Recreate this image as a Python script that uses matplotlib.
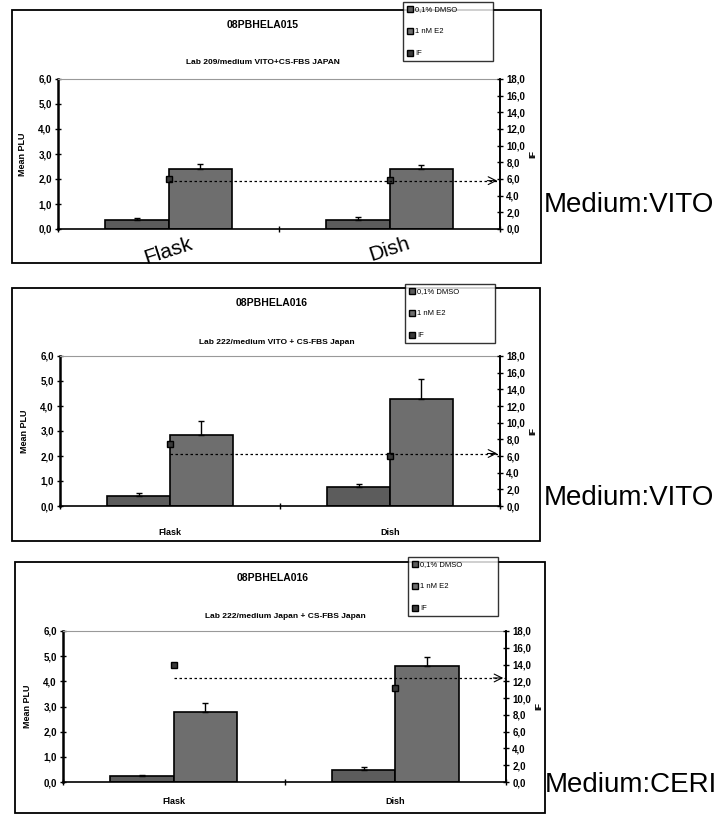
import numpy as np
import matplotlib
matplotlib.use("Agg")
from matplotlib import pyplot as plt
import matplotlib.patches as mpatches
from matplotlib.lines import Line2D
from matplotlib.ticker import FuncFormatter

plt.rcParams["font.family"] = ["Liberation Sans", "DejaVu Sans"]

W, H = 720, 815

categories = ["Flask", "Dish"]
series_names = ["0,1% DMSO", "1 nM E2", "IF"]

# panel 1
p1_title = "08PBHELA015"
p1_sub = "Lab 209/medium VITO+CS-FBS JAPAN"
p1_dmso = [0.38, 0.38]
p1_dmso_err = [0.07, 0.10]
p1_e2 = [2.38, 2.38]
p1_e2_err = [0.22, 0.17]
p1_if = [6.0, 5.9]
p1_if_line = 5.8

# panel 2
p2_title = "08PBHELA016"
p2_sub = "Lab 222/medium VITO + CS-FBS Japan"
p2_dmso = [0.40, 0.78]
p2_dmso_err = [0.14, 0.10]
p2_e2 = [2.85, 4.30]
p2_e2_err = [0.56, 0.80]
p2_if = [7.5, 6.0]
p2_if_line = 6.3

# panel 3
p3_title = "08PBHELA016"
p3_sub = "Lab 222/medium Japan + CS-FBS Japan"
p3_dmso = [0.22, 0.47]
p3_dmso_err = [0.04, 0.12]
p3_e2 = [2.78, 4.59]
p3_e2_err = [0.37, 0.38]
p3_if = [14.0, 11.2]
p3_if_line = 12.4

side_labels = ["Medium:VITO", "Medium:VITO", "Medium:CERI"]

DMSO_COL = "#5c5c5c"
E2_COL = "#6e6e6e"
IF_COL = "#3a3a3a"


def frac(x, y, w, h):
    return [x / W, 1 - (y + h) / H, w / W, h / H]


comma = FuncFormatter(lambda v, p: ("%.1f" % v).replace(".", ","))

fig = plt.figure(figsize=(7.2, 8.15), dpi=100)


def panel(box, leg, axrect, title_xy, sub_xy, side_xy, title, sub, dmso, dmso_err,
          e2, e2_err, ifv, ifline, side, hand=False, xpad=12):
    fig.add_artist(mpatches.Rectangle((box[0] / W, 1 - (box[1] + box[3]) / H),
                                      box[2] / W, box[3] / H, transform=fig.transFigure,
                                      fill=False, ec="k", lw=1.3))
    fig.text(title_xy[0] / W, 1 - title_xy[1] / H, title, ha="center", va="center",
             fontsize=7.5, weight="bold")
    fig.text(sub_xy[0] / W, 1 - sub_xy[1] / H, sub, ha="center", va="center",
             fontsize=6, weight="bold")
    fig.text(side_xy[0] / W, 1 - side_xy[1] / H, side, ha="left", va="center",
             fontsize=20)

    ax = fig.add_axes(frac(*axrect))
    x = np.arange(len(categories))
    w = 0.286
    ax.bar(x - w / 2, dmso, w, color=DMSO_COL, edgecolor="k", lw=1.2, zorder=2)
    ax.bar(x + w / 2, e2, w, color=E2_COL, edgecolor="k", lw=1.2, zorder=2)
    ax.errorbar(x - w / 2, dmso, yerr=[np.zeros(2), dmso_err], fmt="none",
                ecolor="k", capsize=2.5, elinewidth=1, zorder=3)
    ax.errorbar(x + w / 2, e2, yerr=[np.zeros(2), e2_err], fmt="none",
                ecolor="k", capsize=2.5, elinewidth=1, zorder=3)
    ax.set_xlim(-0.5, 1.5)
    ax.set_ylim(0, 6)
    ax.set_yticks(np.arange(0, 7, 1))
    ax.yaxis.set_major_formatter(comma)
    ax.tick_params(axis="y", direction="inout", length=5, width=1, labelsize=7, pad=2)
    for t in ax.get_yticklabels():
        t.set_fontweight("bold")
    ax.set_xticks([-0.5, 0.5, 1.5])
    ax.set_xticklabels([])
    ax.tick_params(axis="x", direction="inout", length=5, width=1)
    ax.set_xticks(x, minor=True)
    if hand:
        ax.set_xticklabels([], minor=True)
    else:
        ax.set_xticklabels(categories, minor=True, fontsize=6.5, fontweight="bold")
    ax.tick_params(axis="x", which="minor", length=0, pad=xpad)
    ax.spines["left"].set_linewidth(1.8)
    ax.spines["bottom"].set_linewidth(1.2)
    ax.spines["right"].set_linewidth(1.2)
    ax.spines["top"].set_color("#999999")
    ax.spines["top"].set_linestyle((0, (1, 1)))
    ax.spines["top"].set_linewidth(0.8)
    ax.set_ylabel("Mean PLU", fontsize=6.5, weight="bold", labelpad=8)

    ax2 = ax.twinx()
    ax2.set_ylim(0, 18)
    ax2.set_yticks(np.arange(0, 19, 2))
    ax2.yaxis.set_major_formatter(comma)
    ax2.tick_params(axis="y", direction="inout", length=5, width=1, labelsize=7, pad=2)
    for t in ax2.get_yticklabels():
        t.set_fontweight("bold")
    for s in ["left", "top", "bottom"]:
        ax2.spines[s].set_visible(False)
    ax2.spines["right"].set_linewidth(1.2)
    ax2.set_ylabel("IF", fontsize=6.5, weight="bold", labelpad=2)
    ax2.plot(x, ifv, "s", color=IF_COL, mec="k", ms=4, zorder=4)
    ax2.plot([0, 1.5], [ifline, ifline], color="k", lw=0.9, ls=(0, (2, 2)), zorder=4)
    ax2.annotate("", xy=(1.5, ifline), xytext=(1.43, ifline),
                 arrowprops=dict(arrowstyle="->", lw=0.8, mutation_scale=14, color="k"))

    if hand:
        ax.text(0, -0.2, categories[0], transform=ax.transData, ha="center", va="top",
                fontsize=15, rotation=18, clip_on=False)
        ax.text(1, -0.2, categories[1], transform=ax.transData, ha="center", va="top",
                fontsize=15, rotation=18, clip_on=False)

    handles = [mpatches.Patch(fc=DMSO_COL, ec="k"), mpatches.Patch(fc=E2_COL, ec="k"),
               Line2D([], [], marker="s", ls="none", color=IF_COL, mec="k", ms=4)]
    lg = fig.legend(handles, series_names, loc="upper left",
                    bbox_to_anchor=(leg[0] / W, 1 - leg[1] / H, leg[2] / W, 0.0001),
                    mode="expand", borderaxespad=0, fontsize=5.5, frameon=True,
                    fancybox=False, edgecolor="k", handlelength=0.8, handleheight=0.8,
                    handletextpad=0.3, labelspacing=1.9, borderpad=0.5)
    lg.get_frame().set_linewidth(1.0)
    lg.set_zorder(10)


panel((12, 10, 529, 253), (403, 2, 90), (58, 79, 442, 150), (263, 25), (263, 62),
      (544, 205), p1_title, p1_sub, p1_dmso, p1_dmso_err, p1_e2, p1_e2_err, p1_if,
      p1_if_line, side_labels[0], hand=True)
panel((12, 288, 528, 253), (405, 284, 90), (60, 356, 440, 150), (272, 303), (277, 342),
      (544, 498), p2_title, p2_sub, p2_dmso, p2_dmso_err, p2_e2, p2_e2_err, p2_if,
      p2_if_line, side_labels[1], xpad=16)
panel((15, 562, 530, 251), (408, 557, 90), (63, 631, 443, 151), (273, 578), (285, 617),
      (545, 785), p3_title, p3_sub, p3_dmso, p3_dmso_err, p3_e2, p3_e2_err, p3_if,
      p3_if_line, side_labels[2], xpad=11)

fig.savefig("out.png", dpi=100)
